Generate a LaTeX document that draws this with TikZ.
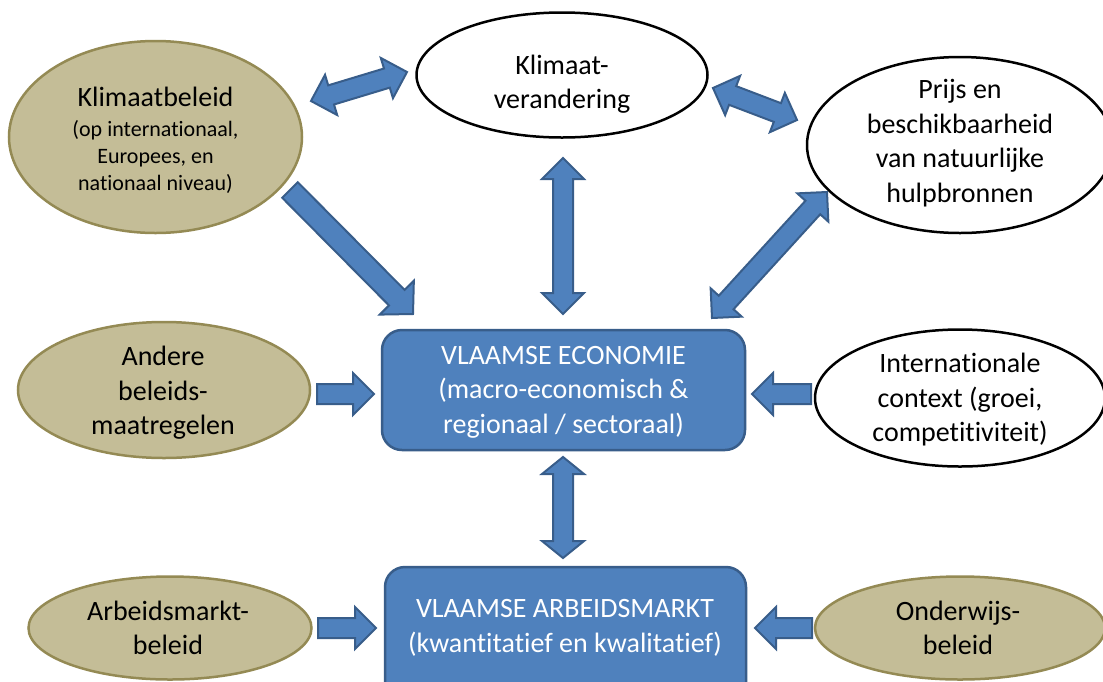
\documentclass[tikz,border=0pt]{standalone}
\usepackage{fontspec}
\setmainfont{Carlito}[RawFeature={-liga}]
\usetikzlibrary{shapes.geometric,calc}
\definecolor{tanfill}{HTML}{C4BD97}
\definecolor{tanline}{HTML}{948A54}
\definecolor{bluefill}{HTML}{4F81BD}
\definecolor{blueline}{HTML}{385D8A}
\tikzset{
  tanell/.style={ellipse, draw=tanline, fill=tanfill, line width=2.5pt, inner sep=0pt},
  whiteell/.style={ellipse, draw=black, fill=white, line width=2.5pt, inner sep=0pt},
  bluebox/.style={rectangle, rounded corners=20pt, draw=blueline, fill=bluefill, line width=2.5pt, inner sep=0pt},
  txt/.style={align=center, inner sep=0pt, font=\fontsize{28}{34.5}\selectfont},
  smalltxt/.style={align=center, inner sep=0pt, font=\fontsize{22}{27}\selectfont},
  blockarrow/.style={draw=blueline, fill=bluefill, line width=2pt, line join=miter},
}
\newcommand{\hw}{10pt}   % half shaft width
\newcommand{\hh}{21pt}   % half head width
\newcommand{\hl}{21pt}   % head length
\newcommand{\singlearr}[2]{%
  \coordinate (tmpH) at ($(#2)!\hl!(#1)$);
  \draw[blockarrow] ($(#1)!\hw!90:(#2)$) -- ($(tmpH)!\hw!90:(#2)$) -- ($(tmpH)!\hh!90:(#2)$)
    -- (#2) -- ($(tmpH)!\hh!-90:(#2)$) -- ($(tmpH)!\hw!-90:(#2)$) -- ($(#1)!\hw!-90:(#2)$) -- cycle;
}
\newcommand{\doublearr}[2]{%
  \coordinate (tmpA) at ($(#1)!\hl!(#2)$);
  \coordinate (tmpB) at ($(#2)!\hl!(#1)$);
  \draw[blockarrow] (#1) -- ($(tmpA)!\hh!90:(#2)$) -- ($(tmpA)!\hw!90:(#2)$) -- ($(tmpB)!\hw!90:(#2)$)
    -- ($(tmpB)!\hh!90:(#2)$) -- (#2) -- ($(tmpB)!\hh!-90:(#2)$) -- ($(tmpB)!\hw!-90:(#2)$)
    -- ($(tmpA)!\hw!-90:(#2)$) -- ($(tmpA)!\hh!-90:(#2)$) -- cycle;
}
\begin{document}
\begin{tikzpicture}[x=1pt, y=-1pt]
\useasboundingbox (0,0) rectangle (1103,681);
\clip (0,0) rectangle (1103,681);
\fill[white] (0,0) rectangle (1103,681);

% ellipses and boxes
\node[tanell, minimum width=293pt, minimum height=192pt] (klimb) at (155.5,137) {};
\node[whiteell, minimum width=291pt, minimum height=125pt] (klimv) at (562,75) {};
\node[whiteell, minimum width=306pt, minimum height=176pt] (prijs) at (960,145) {};
\node[tanell, minimum width=292pt, minimum height=136pt] (andere) at (164,390) {};
\node[bluebox, minimum width=363pt, minimum height=120pt] (econ) at (563.5,390) {};
\node[whiteell, minimum width=290pt, minimum height=137pt] (intl) at (960,398) {};
\node[tanell, minimum width=283pt, minimum height=103pt] (arbb) at (170,628) {};
\node[bluebox, minimum width=361pt, minimum height=135pt] (arbm) at (565.5,634.5) {};
\node[tanell, minimum width=290pt, minimum height=103pt] (onder) at (960,628) {};

% texts
\node[txt] (klimbt) at (155.5,97) {Klimaatbeleid};
\node[smalltxt] (klimbs) at ($(klimb.center)+(0,20)$) {(op internationaal,\\Europees, en\\nationaal niveau)};
\node[txt] at (562,84) {Klimaat-\\verandering};
\node[txt] at (960,143) {Prijs en\\beschikbaarheid\\van natuurlijke\\hulpbronnen};
\node[txt] at (163,393) {Andere\\beleids-\\maatregelen};
\node[txt, text=white] at (563.5,392) {VLAAMSE ECONOMIE\\(macro-economisch \&\\regionaal / sectoraal)};
\node[txt] at (960,400) {Internationale\\context (groei,\\competitiviteit)};
\node[txt] at (168,628) {Arbeidsmarkt-\\beleid};
\node[txt, text=white] at (565,628) {VLAAMSE ARBEIDSMARKT\\(kwantitatief en kwalitatief)};
\node[txt] at (958,628) {Onderwijs-\\beleid};

% arrow end points
\coordinate (a1) at (311,101);  \coordinate (a2) at (407,72);
\coordinate (b1) at (713,88);   \coordinate (b2) at (797,120);
\coordinate (c1) at (290,190);  \coordinate (c2) at (413,314);
\coordinate (d1) at (563,158);  \coordinate (d2) at (563,314);
\coordinate (e1) at (827,192);  \coordinate (e2) at (712,318);
\coordinate (f1) at (317,394);  \coordinate (f2) at (374,394);
\coordinate (g1) at (811,394);  \coordinate (g2) at (752,394);
\coordinate (h1) at (563,457);  \coordinate (h2) at (563,558);
\coordinate (i1) at (318,628);  \coordinate (i2) at (376,628);
\coordinate (j1) at (812,628);  \coordinate (j2) at (755,628);

\doublearr{a1}{a2}
\doublearr{b1}{b2}
\begingroup
\renewcommand{\hw}{11pt}\renewcommand{\hh}{24pt}\renewcommand{\hl}{23pt}
\singlearr{c1}{c2}
\endgroup
\doublearr{d1}{d2}
\doublearr{e1}{e2}
\singlearr{f1}{f2}
\singlearr{g1}{g2}
\begingroup
\renewcommand{\hl}{17pt}
\doublearr{h1}{h2}
\endgroup
\singlearr{i1}{i2}
\singlearr{j1}{j2}
\end{tikzpicture}
\end{document}
